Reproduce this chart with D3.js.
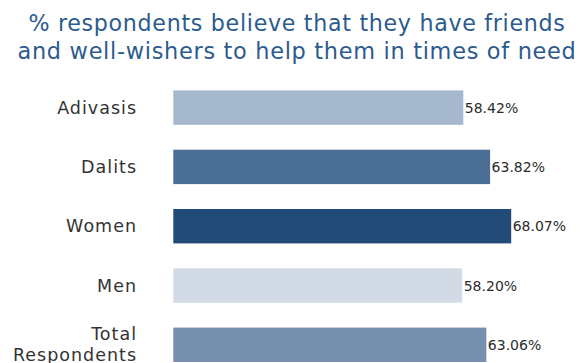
<!DOCTYPE html>
<html>
<head>
<meta charset="utf-8">
<script src="https://cdn.jsdelivr.net/npm/d3@7"></script>
<style>
  html, body { margin: 0; padding: 0; background: #fff; }
  svg { display: block; }
  text { font-family: "DejaVu Sans", "Noto Sans", sans-serif; }
</style>
</head>
<body>
<svg id="chart" width="580" height="363"></svg>
<script>
// Survey share that reports having friends / well-wishers to rely on
const categories = ["Adivasis", "Dalits", "Women", "Men", "Total Respondents"];
const values = [58.42, 63.82, 68.07, 58.20, 63.06];
const barColors = ["#a6b8cd", "#4b6e94", "#224b7a", "#d2dbe5", "#7890b0"];
const titleLines = [
  "% respondents believe that they have friends",
  "and well-wishers to help them in times of need"
];

const W = 580, H = 363;
const svg = d3.select("#chart");

// Size a text so it spans the given width (with a little tracking)
function fitWidth(sel, target, base, tracking) {
  sel.attr("font-size", base).attr("letter-spacing", tracking);
  const len = sel.node().getComputedTextLength();
  sel.attr("font-size", base * target / len);
}

// Title, two centred lines
const titleColor = "#2c5b8e";
const titleTargets = [541, 563];
const titleBaselines = [31, 59];
titleLines.forEach((line, i) => {
  const t = svg.append("text")
    .attr("x", 297)
    .attr("y", titleBaselines[i])
    .attr("text-anchor", "middle")
    .attr("fill", titleColor)
    .text(line);
  fitWidth(t, titleTargets[i], 20, 0.7);
});

// Scales
const x = d3.scaleLinear().domain([0, 80]).range([173.3, 173.3 + 80 * 4.964]);
const y = d3.scaleBand()
  .domain(categories)
  .range([77.95, 77.95 + 5 * 59.3])
  .paddingInner(0.42)
  .paddingOuter(0.21);

const data = categories.map((c, i) => ({ cat: c, val: values[i], color: barColors[i] }));

// Bars
svg.append("g").selectAll("rect")
  .data(data)
  .join("rect")
  .attr("x", x(0))
  .attr("y", d => y(d.cat))
  .attr("width", d => x(d.val) - x(0))
  .attr("height", y.bandwidth())
  .attr("fill", d => d.color);

// Value labels at the end of each bar
svg.append("g").selectAll("text")
  .data(data)
  .join("text")
  .attr("x", d => x(d.val) + 1.5)
  .attr("y", d => y(d.cat) + y.bandwidth() / 2)
  .attr("dy", "0.36em")
  .attr("fill", "#2b2b2b")
  .attr("font-size", 14)
  .attr("letter-spacing", 0)
  .text(d => d.val.toFixed(2) + "%");

// Category labels, right aligned; long names wrap onto two lines
const labelSize = 17.5;
const labels = svg.append("g").selectAll("text")
  .data(data)
  .join("text")
  .attr("text-anchor", "end")
  .attr("fill", "#333")
  .attr("font-size", labelSize)
  .attr("letter-spacing", 1)
  .attr("y", d => y(d.cat) + y.bandwidth() / 2);

labels.each(function(d) {
  const words = d.cat.split(" ");
  const t = d3.select(this);
  const lineH = 21;
  const first = -(words.length - 1) * lineH / 2;
  words.forEach((w, i) => {
    t.append("tspan")
      .attr("x", 137)
      .attr("dy", i === 0 ? (first + 6) : lineH)
      .text(w);
  });
});
</script>
</body>
</html>
